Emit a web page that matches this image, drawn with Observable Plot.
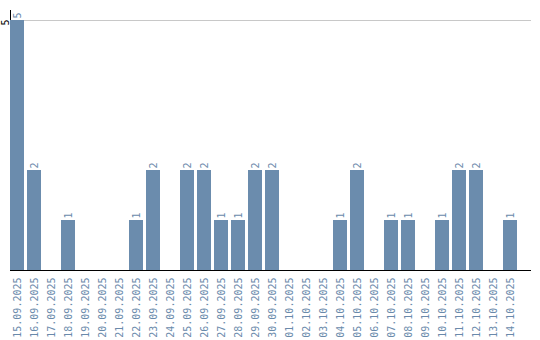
<!DOCTYPE html>
<html>
<head>
<meta charset="utf-8">
<script src="https://cdn.jsdelivr.net/npm/d3@7"></script>
<script src="https://cdn.jsdelivr.net/npm/@observablehq/plot@0.6"></script>
<style>
  html, body { margin: 0; padding: 0; background: #fff; }
</style>
</head>
<body>
<div id="chart"></div>
<script>
const dates = ["15.09.2025","16.09.2025","17.09.2025","18.09.2025","19.09.2025","20.09.2025","21.09.2025","22.09.2025","23.09.2025","24.09.2025","25.09.2025","26.09.2025","27.09.2025","28.09.2025","29.09.2025","30.09.2025","01.10.2025","02.10.2025","03.10.2025","04.10.2025","05.10.2025","06.10.2025","07.10.2025","08.10.2025","09.10.2025","10.10.2025","11.10.2025","12.10.2025","13.10.2025","14.10.2025"];
const counts = [5,2,0,1,0,0,0,1,2,0,2,2,1,1,2,2,0,0,0,1,2,0,1,1,0,1,2,2,0,1];
const yTicks = [5];

const data = dates.map((d, i) => ({date: d, value: counts[i]}));
const font = "DejaVu Sans Mono, monospace";
const barColor = "#6b8cad";
const labelColor = "#6a8aab";

const chart = Plot.plot({
  width: 540,
  height: 340,
  marginTop: 10,
  marginBottom: 70,
  marginLeft: 10,
  marginRight: 9,
  style: {fontFamily: font, fontSize: "10px", background: "#fff"},
  x: {type: "band", domain: dates, range: [10, 517], paddingInner: 3/17, paddingOuter: 0, align: 0, axis: null},
  y: {domain: [0, 5.2], axis: null},
  marks: [
    Plot.ruleY(yTicks, {stroke: "#c8c8c8"}),
    Plot.ruleX([dates[0]], {x: d => d, y1: 0, y2: 5.2, dx: -7, stroke: "black"}),
    Plot.barY(data, {x: "date", y: "value", fill: barColor}),
    Plot.text(data.filter(d => d.value > 0), {x: "date", y: "value", text: d => String(d.value), rotate: -90, textAnchor: "start", dy: -2, fill: labelColor, fontSize: 10}),
    Plot.ruleY([0], {stroke: "black"}),
    Plot.text(dates, {x: d => d, y: 0, text: d => d, rotate: -90, textAnchor: "end", dy: 7, fill: labelColor, fontSize: 10}),
    Plot.text(yTicks, {x: () => dates[0], y: d => d, text: d => String(d), rotate: -90, textAnchor: "middle", dx: -12, dy: 2, fill: "black", fontSize: 10})
  ]
});
document.getElementById("chart").appendChild(chart);
</script>
</body>
</html>
